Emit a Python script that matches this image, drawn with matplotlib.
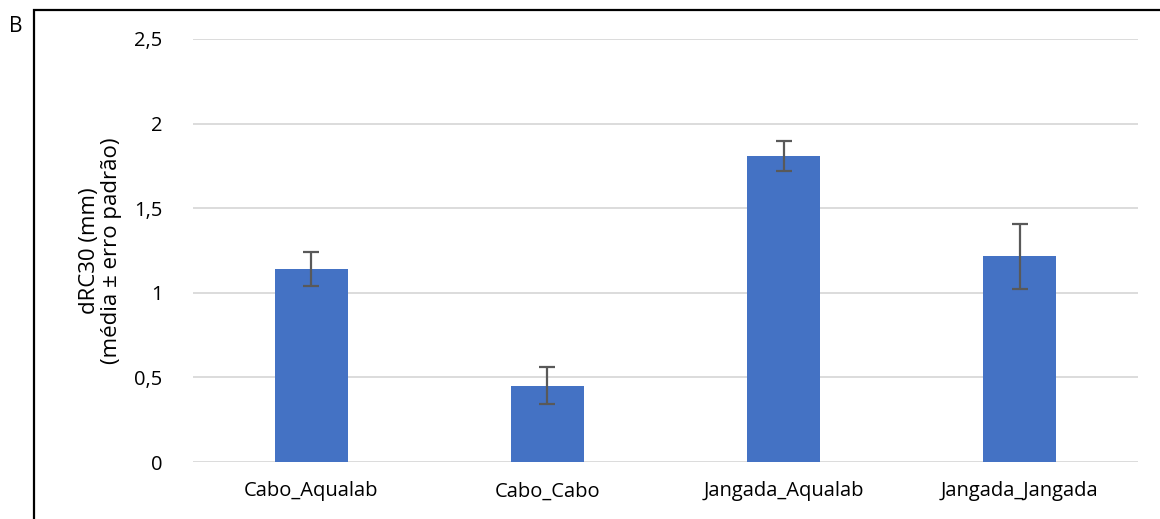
import matplotlib.pyplot as plt
from matplotlib.patches import Rectangle
from matplotlib.ticker import FuncFormatter

plt.rcParams['font.family'] = ['Open Sans', 'DejaVu Sans']

# mean dRC30 per group and standard error
grupos = ['Cabo_Aqualab', 'Cabo_Cabo', 'Jangada_Aqualab', 'Jangada_Jangada']
media = [1.14, 0.45, 1.81, 1.215]
erro = [0.10, 0.11, 0.09, 0.19]

fig = plt.figure(figsize=(11.6, 5.19), dpi=100)
ax = fig.add_axes([0.1664, 0.1098, 0.8146, 0.8151])

x = range(len(grupos))
ax.bar(x, media, width=0.31, color='#4472C4', zorder=2)
ax.errorbar(x, media, yerr=erro, fmt='none', ecolor='#595959',
            elinewidth=1.6, capsize=6, capthick=1.6, zorder=3)

ax.set_xlim(-0.5, len(grupos) - 0.5)
ax.set_ylim(0, 2.5)
ax.set_yticks([0, 0.5, 1, 1.5, 2, 2.5])
ax.yaxis.set_major_formatter(FuncFormatter(lambda v, p: f'{v:g}'.replace('.', ',')))
ax.set_xticks(list(x))
ax.set_xticklabels(grupos)
ax.tick_params(length=0, labelsize=14.5, colors='black')
ax.tick_params(axis='y', pad=22)
ax.tick_params(axis='x', pad=14)

ax.grid(axis='y', color='#d9d9d9', linewidth=1.3, zorder=0)
for s in ax.spines.values():
    s.set_visible(False)

ax.set_ylabel('dRC30 (mm)\n(média ± erro padrão)', fontsize=16, labelpad=9,
              linespacing=1.05)

# panel frame and letter
fig.patches.append(Rectangle((34 / 1160, -0.1), 1.2, 1 - 10 / 519 + 0.1,
                             transform=fig.transFigure, fill=False,
                             edgecolor='black', linewidth=1.6))
fig.text(9 / 1160, 1 - 27 / 519, 'B', fontsize=15, va='center', ha='left')

fig.savefig('out.png', dpi=100)
